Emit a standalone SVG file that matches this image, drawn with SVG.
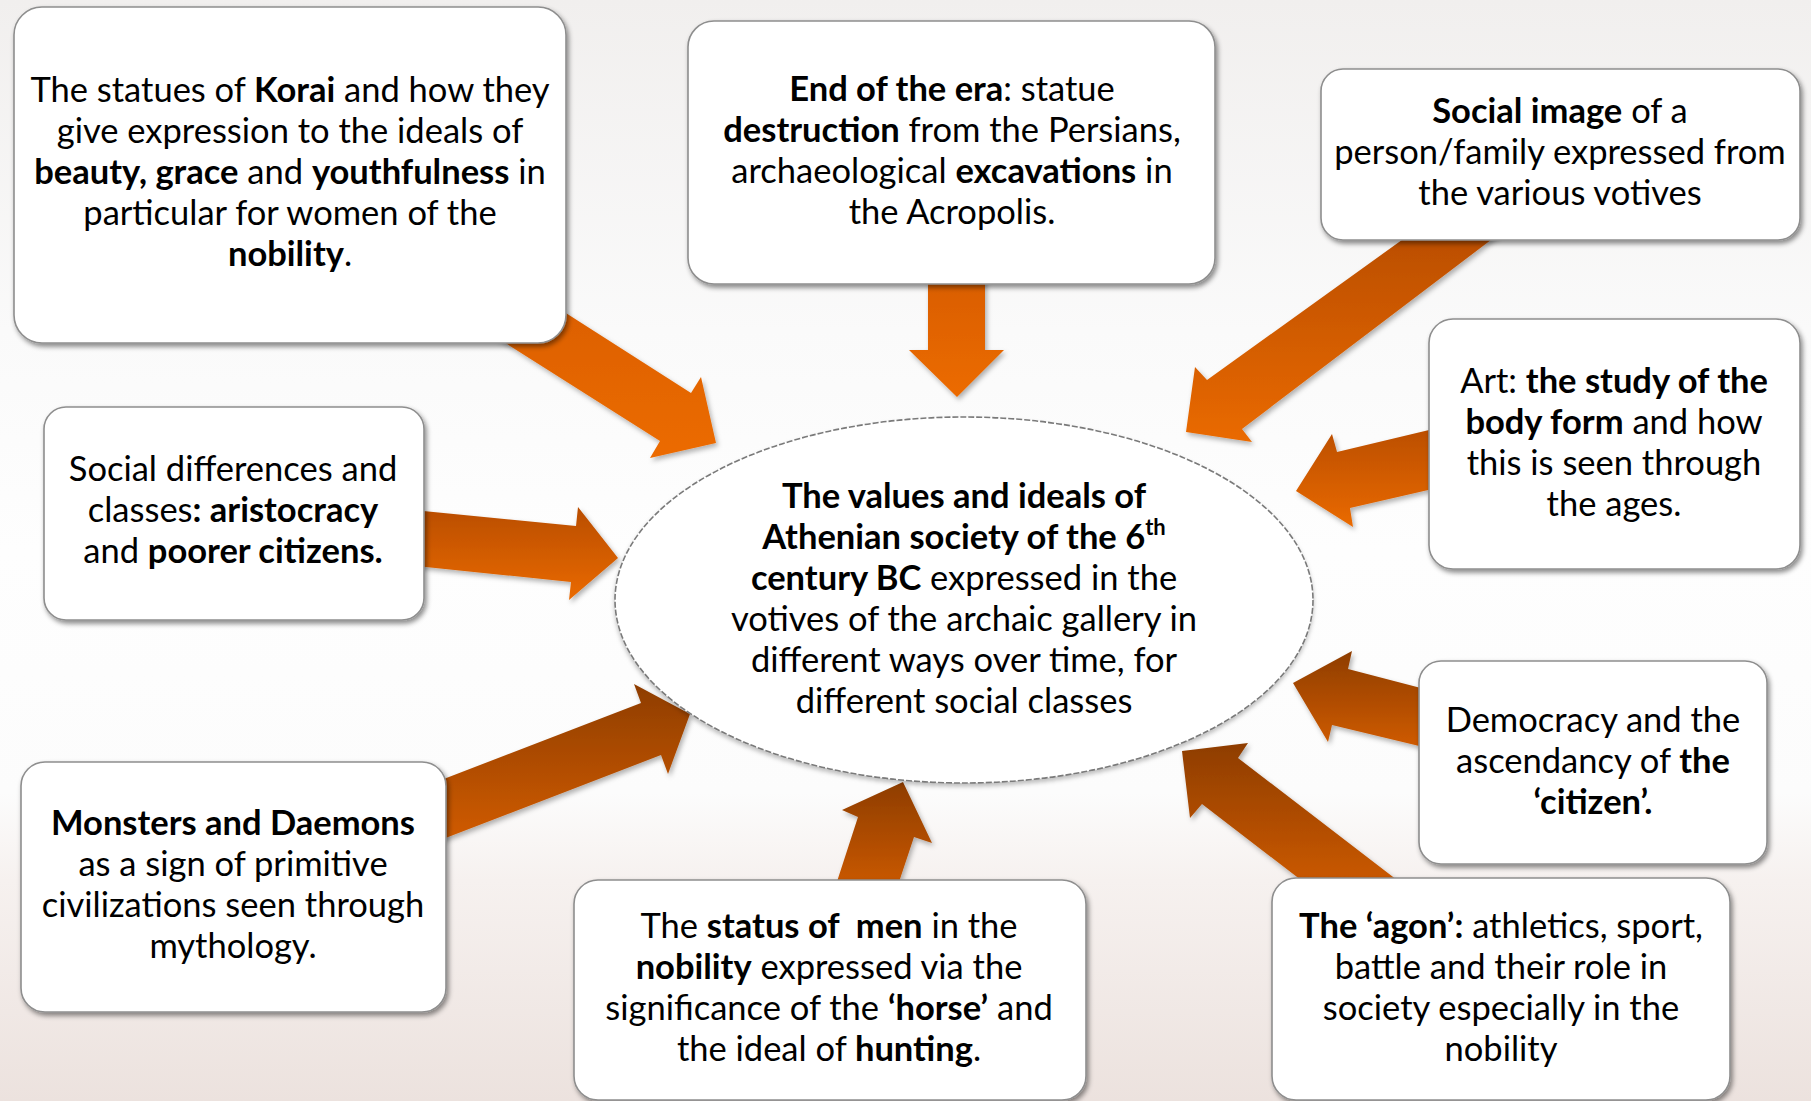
<svg xmlns="http://www.w3.org/2000/svg" width="1811" height="1101" viewBox="0 0 1811 1101">
<style>
.box{fill:#ffffff;stroke:#8e8e8e;stroke-width:1.6;filter:url(#sh)}
.t{font-family:Lato,"Open Sans","Liberation Sans",sans-serif;font-size:34.5px;fill:#000;text-anchor:middle}
.b{font-weight:bold}
.arr{filter:url(#ash)}
</style>
<defs>
<linearGradient id="bg" x1="0" y1="0" x2="0" y2="1">
<stop offset="0" stop-color="#f1efee"/>
<stop offset="0.3" stop-color="#fafafa"/>
<stop offset="0.5" stop-color="#fefefe"/>
<stop offset="0.72" stop-color="#fcfcfc"/>
<stop offset="0.8" stop-color="#f6f1ef"/>
<stop offset="1" stop-color="#ece2de"/>
</linearGradient>
<linearGradient id="gA" x1="0" y1="0" x2="0" y2="1"><stop offset="0" stop-color="#d85d00"/><stop offset="1" stop-color="#ec6b04"/></linearGradient>
<linearGradient id="gB" x1="0" y1="0" x2="0" y2="1"><stop offset="0" stop-color="#b94d02"/><stop offset="1" stop-color="#ea6a06"/></linearGradient>
<linearGradient id="gC" x1="0" y1="0" x2="0" y2="1"><stop offset="0" stop-color="#8e3d02"/><stop offset="1" stop-color="#d25c06"/></linearGradient>
<filter id="sh" x="-5%" y="-5%" width="112%" height="115%">
<feDropShadow dx="2" dy="3" stdDeviation="2.5" flood-color="#000" flood-opacity="0.45"/>
</filter>
<filter id="ash" x="-10%" y="-10%" width="125%" height="125%">
<feDropShadow dx="2" dy="3" stdDeviation="2.5" flood-color="#000" flood-opacity="0.3"/>
</filter>
<filter id="esh" x="-5%" y="-5%" width="110%" height="112%">
<feDropShadow dx="0" dy="3" stdDeviation="2" flood-color="#000" flood-opacity="0.25"/>
</filter>
</defs>
<rect x="0" y="0" width="1811" height="1101" fill="url(#bg)"/>

<g id="connectors">
<polygon class="arr" fill="url(#gA)" points="497,269 691,393 701,377 716,443 650,458 660,441 466,318"/>
<polygon class="arr" fill="url(#gA)" points="928,270 985,270 985,350 1004,350 957,397 909,350 928,350"/>
<polygon class="arr" fill="url(#gB)" points="1420,227 1508,227 1242,429 1252,442 1186,432 1195,367 1207,380"/>
<polygon class="arr" fill="url(#gB)" points="1450,425 1337,452 1332,434 1296,491 1353,527 1350,508 1450,485"/>
<polygon class="arr" fill="url(#gC)" points="1440,693 1348,669 1352,651 1293,683 1328,742 1332,725 1440,751"/>
<polygon class="arr" fill="url(#gC)" points="1423,900 1238,758 1248,743 1182,751 1190,818 1202,804 1327,900"/>
<polygon class="arr" fill="url(#gC)" points="831,900 858,817 842,810 903,782 932,843 914,837 893,900"/>
<polygon class="arr" fill="url(#gC)" points="410,792 641,703 634,684 690,714 668,774 661,755 430,844"/>
<polygon class="arr" fill="url(#gB)" points="403,509 576,526 578,507 618,558 569,600 571,582 397,564"/>
</g>

<g id="node-center">
<ellipse cx="964" cy="600" rx="349" ry="183" fill="#ffffff" stroke="#7a7a7a" stroke-width="1.6" stroke-dasharray="6 2" filter="url(#esh)"/>
<text class="t" x="964" y="508"><tspan class="b">The values and ideals of</tspan></text>
<text class="t" x="964" y="549"><tspan class="b">Athenian society of the 6</tspan><tspan class="b" font-size="22" dy="-14">th</tspan></text>
<text class="t" x="964" y="590"><tspan class="b">century BC</tspan> expressed in the</text>
<text class="t" x="964" y="631">votives of the archaic gallery in</text>
<text class="t" x="964" y="672">different ways over time, for</text>
<text class="t" x="964" y="713">different social classes</text>
</g>

<g id="node-korai">
<rect class="box" x="14" y="7" width="552" height="336" rx="28"/>
<text class="t" x="290" y="102">The statues of <tspan class="b">Korai</tspan> and how they</text>
<text class="t" x="290" y="143">give expression to the ideals of</text>
<text class="t" x="290" y="184"><tspan class="b">beauty, grace</tspan> and <tspan class="b">youthfulness</tspan> in</text>
<text class="t" x="290" y="225">particular for women of the</text>
<text class="t" x="290" y="266"><tspan class="b">nobility</tspan>.</text>
</g>

<g id="node-end-era">
<rect class="box" x="688" y="21" width="527" height="263" rx="26"/>
<text class="t" x="952" y="101"><tspan class="b">End of the era</tspan>: statue</text>
<text class="t" x="952" y="142"><tspan class="b">destruction</tspan> from the Persians,</text>
<text class="t" x="952" y="183">archaeological <tspan class="b">excavations</tspan> in</text>
<text class="t" x="952" y="224">the Acropolis.</text>
</g>

<g id="node-social-image">
<rect class="box" x="1321" y="69" width="479" height="171" rx="22"/>
<text class="t" x="1560" y="123"><tspan class="b">Social image</tspan> of a</text>
<text class="t" x="1560" y="164">person/family expressed from</text>
<text class="t" x="1560" y="205">the various votives</text>
</g>

<g id="node-art">
<rect class="box" x="1429" y="319" width="371" height="250" rx="24"/>
<text class="t" x="1614" y="393">Art: <tspan class="b">the study of the</tspan></text>
<text class="t" x="1614" y="434"><tspan class="b">body form</tspan> and how</text>
<text class="t" x="1614" y="475">this is seen through</text>
<text class="t" x="1614" y="516">the ages.</text>
</g>

<g id="node-democracy">
<rect class="box" x="1419" y="661" width="348" height="203" rx="22"/>
<text class="t" x="1593" y="732">Democracy and the</text>
<text class="t" x="1593" y="773">ascendancy of <tspan class="b">the</tspan></text>
<text class="t" x="1593" y="814"><tspan class="b">‘citizen’.</tspan></text>
</g>

<g id="node-agon">
<rect class="box" x="1272" y="878" width="458" height="222" rx="24"/>
<text class="t" x="1501" y="938"><tspan class="b">The ‘agon’:</tspan> athletics, sport,</text>
<text class="t" x="1501" y="979">battle and their role in</text>
<text class="t" x="1501" y="1020">society especially in the</text>
<text class="t" x="1501" y="1061">nobility</text>
</g>

<g id="node-status">
<rect class="box" x="574" y="880" width="512" height="220" rx="24"/>
<text class="t" x="829" y="938">The <tspan class="b">status of&#160; men</tspan> in the</text>
<text class="t" x="829" y="979"><tspan class="b">nobility</tspan> expressed via the</text>
<text class="t" x="829" y="1020">significance of the <tspan class="b">‘horse’</tspan> and</text>
<text class="t" x="829" y="1061">the ideal of <tspan class="b">hunting</tspan>.</text>
</g>

<g id="node-monsters">
<rect class="box" x="21" y="762" width="425" height="250" rx="24"/>
<text class="t" x="233" y="835"><tspan class="b">Monsters and Daemons</tspan></text>
<text class="t" x="233" y="876">as a sign of primitive</text>
<text class="t" x="233" y="917">civilizations seen through</text>
<text class="t" x="233" y="958">mythology.</text>
</g>

<g id="node-social-diff">
<rect class="box" x="44" y="407" width="380" height="213" rx="22"/>
<text class="t" x="233" y="481">Social differences and</text>
<text class="t" x="233" y="522">classes<tspan class="b">: aristocracy</tspan></text>
<text class="t" x="233" y="563">and <tspan class="b">poorer citizens.</tspan></text>
</g>
</svg>
